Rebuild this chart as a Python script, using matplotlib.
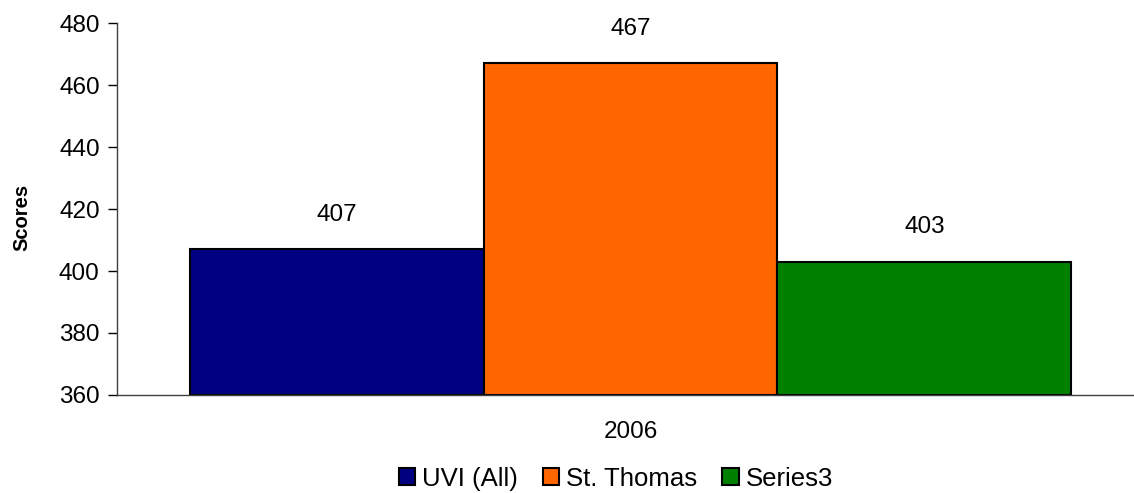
import matplotlib.pyplot as plt

plt.rcParams['font.family'] = ['Liberation Sans', 'DejaVu Sans']

# data
series = ['UVI (All)', 'St. Thomas', 'Series3']
scores = [407, 467, 403]
colors = ['#000080', '#FF6600', '#008000']
year = '2006'

fig = plt.figure(figsize=(11.34, 4.93), dpi=100)
ax = fig.add_axes([0.1032, 0.1988, 0.8968, 0.7545])

pos = [-1, 0, 1]
ax.bar(pos, [s - 360 for s in scores], bottom=360, width=1.0,
       color=colors, edgecolor='black', linewidth=1.5)
for p, s in zip(pos, scores):
    ax.annotate(str(s), (p, s), xytext=(0, 25), textcoords='offset points',
                ha='center', va='center', fontsize=17.5)

ax.set_ylim(360, 480)
ax.set_yticks(range(360, 481, 20))
ax.set_xlim(-1.747, 1.713)
ax.set_xticks([0])
ax.set_xticklabels([year])
ax.tick_params(axis='x', length=0, pad=19, labelsize=17.5)
ax.tick_params(axis='y', length=6.5, width=1, labelsize=17.5, pad=6)
for side in ['top', 'right']:
    ax.spines[side].set_visible(False)
for side in ['left', 'bottom']:
    ax.spines[side].set_color('#404040')
    ax.spines[side].set_linewidth(1)
ax.set_ylabel('Scores', fontsize=14.5, fontweight='bold')
ax.yaxis.set_label_coords(-0.0846, 0.478)

handles = [plt.Rectangle((0, 0), 1, 1, facecolor=c, edgecolor='black', linewidth=1.5)
           for c in colors]
fig.legend(handles, series, loc='center', bbox_to_anchor=(0.543, 0.029), ncol=3,
           frameon=False, fontsize=18.5, handlelength=0.64, handleheight=0.64,
           handletextpad=0.27, columnspacing=0.97, borderpad=0)

fig.savefig('out.png', dpi=100)
